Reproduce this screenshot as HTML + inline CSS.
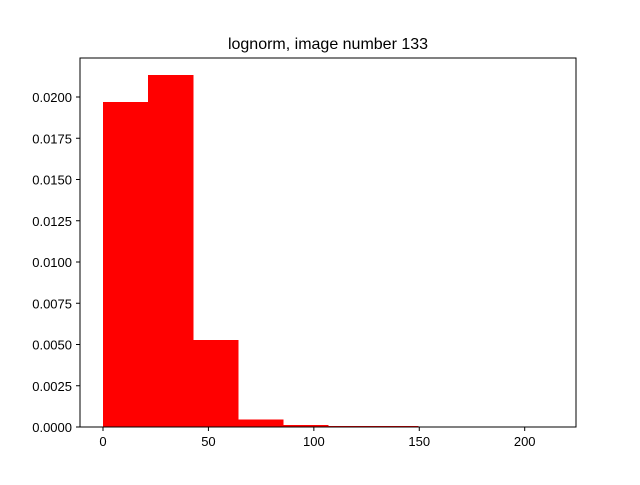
<!DOCTYPE html>
<html><head><meta charset="utf-8"><style>
body{margin:0;background:#fff;font-family:"Liberation Sans","DejaVu Sans",sans-serif;}
</style></head><body>
<svg id="c" width="640" height="480" xmlns="http://www.w3.org/2000/svg">
<rect width="640" height="480" fill="#fff"/>
<text x="328" y="49" font-size="16" text-anchor="middle">lognorm, image number 133</text>
<g id="bars" shape-rendering="crispEdges"></g>
<rect x="80" y="58" width="496" height="369" fill="none" stroke="#000" stroke-width="1"/>
<g id="axes" font-size="13"></g>
</svg>
<script>
const binStart = 0;
const binWidth = 21.35;
const densities = [0.0197, 0.02133, 0.00527, 0.00045, 0.00012, 0.00005, 0.00005, 0, 0, 0.00001];
const xTicks = [0, 50, 100, 150, 200];
const yTicks = [0, 0.0025, 0.005, 0.0075, 0.01, 0.0125, 0.015, 0.0175, 0.02];
const yTickLabels = ["0.0000","0.0025","0.0050","0.0075","0.0100","0.0125","0.0150","0.0175","0.0200"];
const xs = v => 103 + v * 2.1085;
const ys = v => 427 - v * 16500;
const NS = "http://www.w3.org/2000/svg";
const bars = document.getElementById('bars');
densities.forEach((d, i) => {
  const r = document.createElementNS(NS, 'rect');
  const x0 = xs(binStart + i * binWidth), x1 = xs(binStart + (i + 1) * binWidth);
  r.setAttribute('x', x0); r.setAttribute('width', x1 - x0 + 0.5);
  r.setAttribute('y', ys(d)); r.setAttribute('height', 427 - ys(d));
  r.setAttribute('fill', '#ff0000');
  
  
  bars.appendChild(r);
});
const ax = document.getElementById('axes');
xTicks.forEach(t => {
  const l = document.createElementNS(NS, 'line');
  l.setAttribute('x1', xs(t)); l.setAttribute('x2', xs(t)); l.setAttribute('y1', 427); l.setAttribute('y2', 431);
  l.setAttribute('stroke', '#000');
  
  
  ax.appendChild(l);
  const tx = document.createElementNS(NS, 'text');
  tx.setAttribute('x', xs(t)); tx.setAttribute('y', 446); tx.setAttribute('text-anchor', 'middle');
  tx.textContent = t;
  
  
  ax.appendChild(tx);
});
yTicks.forEach((t, i) => {
  const l = document.createElementNS(NS, 'line');
  l.setAttribute('x1', 76); l.setAttribute('x2', 80); l.setAttribute('y1', ys(t)); l.setAttribute('y2', ys(t));
  l.setAttribute('stroke', '#000');
  
  
  ax.appendChild(l);
  const tx = document.createElementNS(NS, 'text');
  tx.setAttribute('x', 72); tx.setAttribute('y', ys(t) + 5); tx.setAttribute('text-anchor', 'end');
  tx.textContent = yTickLabels[i];
  
  
  ax.appendChild(tx);
});
</script>
</body></html>
